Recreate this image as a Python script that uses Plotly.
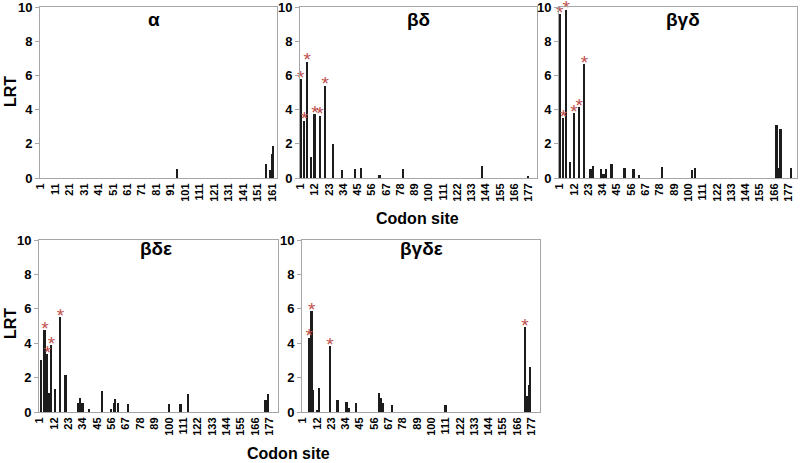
import plotly.graph_objects as go

# ---------------- data ----------------
panel_titles = ["α", "βδ", "βγδ", "βδε", "βγδε"]
n_sites = [164, 183, 183, 183, 183]

alpha_sites = [95, 157, 160, 161, 162]
alpha_lrt = [0.5, 0.8, 0.45, 1.4, 1.9]
alpha_star = []

bd_sites = [1, 4, 6, 9, 12, 16, 20, 26, 33, 43, 48, 62, 80, 141, 177]
bd_lrt = [5.8, 3.35, 6.8, 1.25, 3.75, 3.65, 5.4, 2.0, 0.45, 0.55, 0.57, 0.18, 0.55, 0.72, 0.08]
bd_star = [1, 4, 6, 12, 16, 20]

bgd_sites = [1, 4, 6, 9, 12, 16, 20, 25, 26, 27, 33, 35, 37, 41, 51, 58, 62, 80,
             103, 105, 168, 169, 170, 171, 179]
bgd_lrt = [9.6, 3.5, 9.85, 0.92, 3.78, 4.13, 6.67, 0.5, 0.3, 0.7, 0.55, 0.25, 0.55, 0.8,
           0.57, 0.52, 0.18, 0.65, 0.47, 0.57, 3.1, 0.5, 0.6, 2.85, 0.6]
bgd_star = [1, 4, 6, 12, 16, 20]

bde_sites = [2, 5, 6, 7, 8, 10, 13, 17, 21, 31, 32, 34, 39, 49, 56, 58, 59, 61, 69,
             100, 109, 115, 174, 176]
bde_lrt = [3.05, 4.75, 1.1, 3.35, 1.1, 3.9, 1.33, 5.5, 2.15, 0.5, 0.8, 0.5, 0.18, 1.2,
           0.15, 0.55, 0.78, 0.55, 0.47, 0.45, 0.45, 1.05, 0.7, 1.05]
bde_star = [5, 7, 10, 17]

bgde_sites = [6, 7, 8, 9, 12, 14, 22, 28, 35, 37, 42, 60, 61, 63, 70, 111,
              172, 173, 174, 175, 176]
bgde_lrt = [4.33, 1.08, 5.88, 1.28, 0.08, 1.39, 3.85, 0.7, 0.56, 0.21, 0.5, 1.12, 0.81,
            0.54, 0.43, 0.41, 4.93, 0.9, 0.95, 1.55, 2.62]
bgde_star = [6, 8, 22, 172]

alpha_ticks = list(range(1, 162, 10))
beta_ticks = list(range(1, 178, 11))

panels = [
    (alpha_sites, alpha_lrt, alpha_star, alpha_ticks),
    (bd_sites, bd_lrt, bd_star, beta_ticks),
    (bgd_sites, bgd_lrt, bgd_star, beta_ticks),
    (bde_sites, bde_lrt, bde_star, beta_ticks),
    (bgde_sites, bgde_lrt, bgde_star, beta_ticks),
]

# ---------------- layout geometry (pixels) ----------------
W, H = 800, 463
boxes = [  # x0, x1, ytop, ybottom
    (40, 277, 7, 178),
    (300, 537, 7, 178),
    (559, 797, 7, 178),
    (39, 278, 240, 412),
    (302, 540, 240, 412),
]
title_pos = [(154, 19), (418, 19), (683, 19), (156, 248), (421, 248)]

FONT = "Liberation Sans, Arial, sans-serif"
BAR_COLOR = "#1c1c1c"
STAR_COLOR = "#C0504D"
AXIS_COLOR = "#a6a6a6"

fig = go.Figure()
layout = dict(
    width=W, height=H,
    margin=dict(l=0, r=0, t=0, b=0, autoexpand=False),
    paper_bgcolor="white", plot_bgcolor="white",
    showlegend=False,
    font=dict(family=FONT, color="black"),
    bargap=0,
)
annotations = []

for i, ((sites, vals, stars, ticks), (x0, x1, yt, yb), n, title, (tx, ty)) in enumerate(
        zip(panels, boxes, n_sites, panel_titles, title_pos)):
    k = "" if i == 0 else str(i + 1)
    xa, ya = "x" + k, "y" + k
    fig.add_trace(go.Bar(x=sites, y=vals, xaxis=xa, yaxis=ya, width=1.4,
                         marker=dict(color=BAR_COLOR, line=dict(width=0)),
                         hoverinfo="x+y"))
    if stars:
        sy = [vals[sites.index(s)] for s in stars]
        fig.add_trace(go.Scatter(x=stars, y=sy, xaxis=xa, yaxis=ya, mode="text",
                                 text=["*"] * len(stars), textposition="middle center",
                                 textfont=dict(size=19, color=STAR_COLOR, family=FONT),
                                 cliponaxis=False, hoverinfo="skip"))
    layout["xaxis" + k] = dict(
        domain=[x0 / W, x1 / W], anchor=ya, range=[0.5, n + 0.5], automargin=False,
        tickmode="array", tickvals=ticks, ticktext=[str(t) for t in ticks],
        tickangle=-90, tickfont=dict(size=11, family=FONT, weight="bold"),
        ticks="", showgrid=False, zeroline=False, ticklabeloverflow="allow",
        showline=True, linecolor=AXIS_COLOR, linewidth=1, mirror=True,
    )
    layout["yaxis" + k] = dict(
        domain=[1 - yb / H, 1 - yt / H], anchor=xa, range=[0, 10], dtick=2,
        automargin=False, ticklabeloverflow="allow",
        tickfont=dict(size=13, family=FONT, weight="bold"),
        ticks="outside", ticklen=4, tickcolor=AXIS_COLOR,
        showgrid=False, zeroline=False,
        showline=True, linecolor=AXIS_COLOR, linewidth=1, mirror=True,
    )
    annotations.append(dict(text="<b>%s</b>" % title, x=tx / W, y=1 - ty / H,
                            xref="paper", yref="paper", xanchor="center",
                            yanchor="middle", showarrow=False,
                            font=dict(size=19, family=FONT)))

for (t, x, y, ang) in [("LRT", 10, 92, -90), ("LRT", 10, 324, -90),
                       ("Codon site", 417, 218, 0), ("Codon site", 288, 453, 0)]:
    annotations.append(dict(text="<b>%s</b>" % t, x=x / W, y=1 - y / H, xref="paper",
                            yref="paper", xanchor="center", yanchor="middle",
                            showarrow=False, textangle=ang,
                            font=dict(size=16, family=FONT)))

layout["annotations"] = annotations
fig.update_layout(**layout)
fig.write_html("out.html",
               config={"displayModeBar": False},
               post_script="document.body.style.margin='0px';"
                           "document.body.style.overflow='hidden';")
